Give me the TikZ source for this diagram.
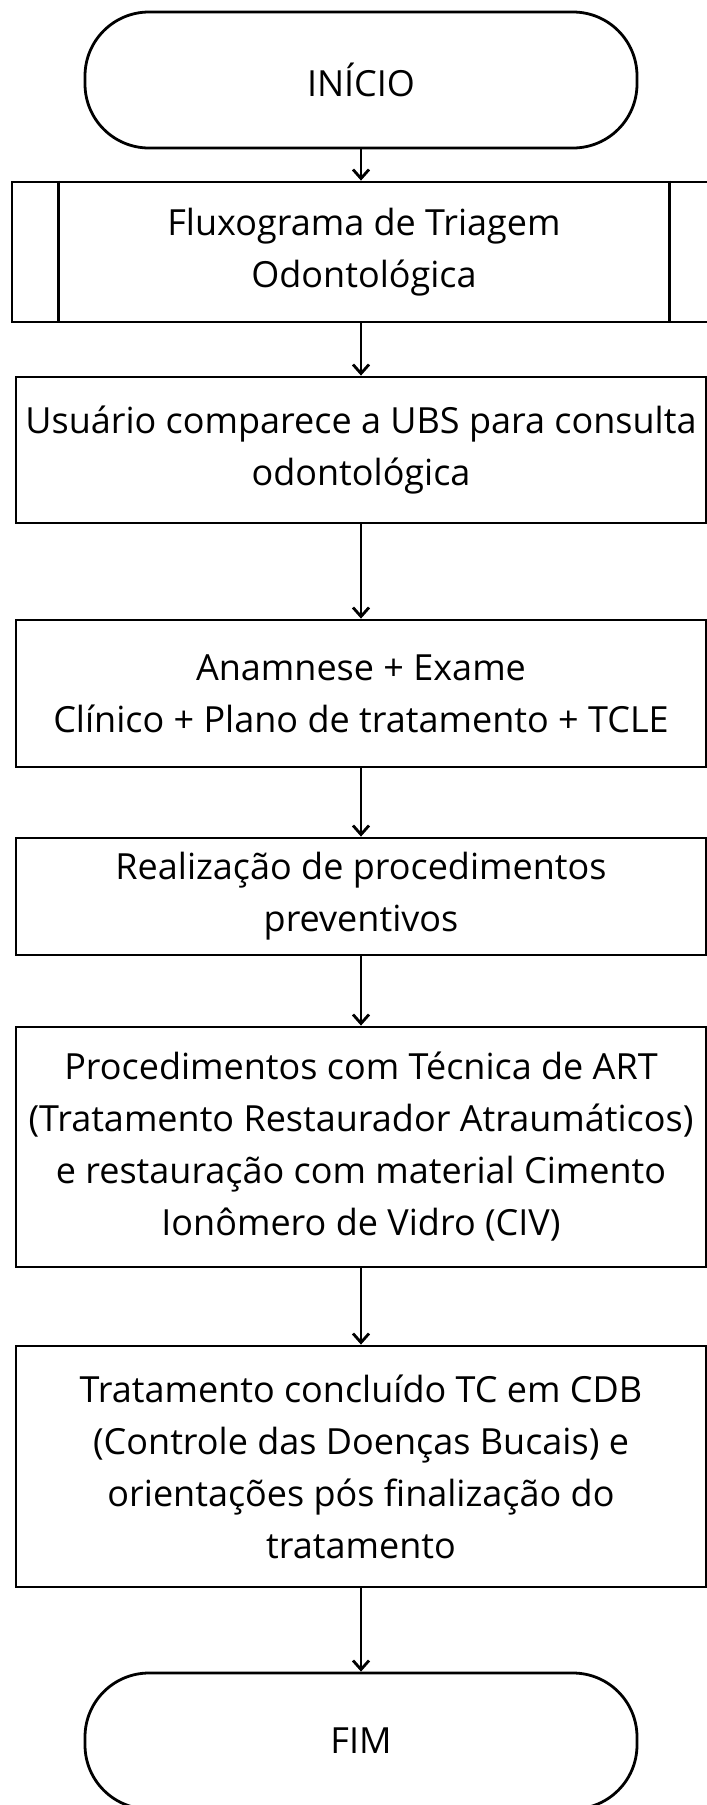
\documentclass[tikz,border=0pt]{standalone}
\usepackage{fontspec}
\setmainfont{Open Sans}
\usepackage{tikz}
\usetikzlibrary{arrows.meta}

\begin{document}
\begin{tikzpicture}[x=1pt,y=-1pt,>={Straight Barb[length=9pt,width=16pt]},
	term/.style={draw,line width=2.8pt,rounded corners=64pt,minimum width=552pt,minimum height=136pt,inner sep=0pt},
	proc/.style={draw,line width=2.8pt,minimum width=690pt,inner sep=0pt,align=center},
	flow/.style={->,line width=2.8pt},
	font=\fontsize{36pt}{52pt}\selectfont]
	
	% page frame
	\fill[white] (0,0) rectangle (707,1805);
	\useasboundingbox (0,0) rectangle (707,1805);
	
	% start
	\node[term] (start) at (361,80) {INÍCIO};
	
	% predefined process (double side bars)
	\node[proc,minimum width=704pt,minimum height=140pt] (triagem) at (364,252)
	{Fluxograma de Triagem\\Odontológica};
	\draw[line width=2.8pt] ([xshift=48pt]triagem.north west) -- ([xshift=48pt]triagem.south west);
	\draw[line width=2.8pt] ([xshift=-48pt]triagem.north east) -- ([xshift=-48pt]triagem.south east);
	
	% process steps
	\node[proc,minimum height=146pt] (consulta) at (361,450)
	{Usuário comparece a UBS para consulta\\odontológica};
	\node[proc,minimum height=147pt] (anamnese) at (361,693.5)
	{Anamnese + Exame\\Clínico + Plano de tratamento + TCLE};
	\node[proc,minimum height=117pt] (preventivos) at (361,896.5)
	{Realização de procedimentos\\preventivos};
	\node[proc,minimum height=240pt] (art) at (361,1147)
	{Procedimentos com Técnica de ART\\(Tratamento Restaurador Atraumáticos)\\e restauração com material Cimento\\Ionômero de Vidro (CIV)};
	\node[proc,minimum height=241pt] (concluido) at (361,1466.5)
	{Tratamento concluído TC em CDB\\(Controle das Doenças Bucais) e\\orientações pós finalização do\\tratamento};
	
	% end
	\node[term] (fim) at (361,1741) {FIM};
	
	% arrows
	\draw[flow] (start.south) -- (start.south |- triagem.north);
	\draw[flow] (triagem.south -| consulta.north) -- (consulta.north);
	\draw[flow] (consulta.south) -- (anamnese.north);
	\draw[flow] (anamnese.south) -- (preventivos.north);
	\draw[flow] (preventivos.south) -- (art.north);
	\draw[flow] (art.south) -- (concluido.north);
	\draw[flow] (concluido.south) -- (fim.north);
	
\end{tikzpicture}
\end{document}
